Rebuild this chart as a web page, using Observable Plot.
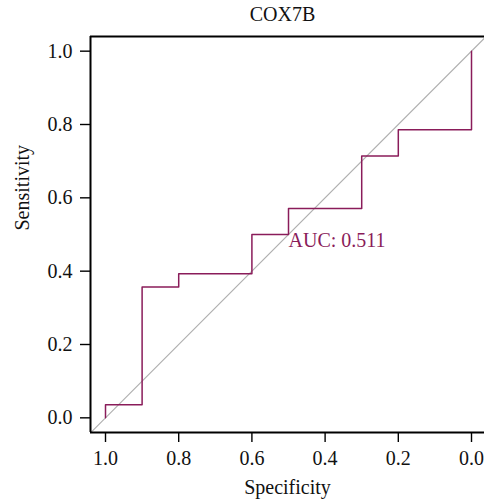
<!DOCTYPE html>
<html><head><meta charset="utf-8">
<script src="https://cdn.jsdelivr.net/npm/d3@7"></script>
<script src="https://cdn.jsdelivr.net/npm/@observablehq/plot@0.6"></script>
<style>body{margin:0;background:#fff}</style>
</head><body><div id="chart"></div>
<script>
const title = "COX7B";
const specificity = [1.0, 1.0, 0.9, 0.8, 0.6, 0.5, 0.3, 0.2, 0.0];
const sensitivity = [0.0, 0.036, 0.357, 0.393, 0.5, 0.571, 0.714, 0.786, 1.0];
const ticks = [0, 0.2, 0.4, 0.6, 0.8, 1.0];
const aucLabel = "AUC: 0.511";
const aucPos = [0.5, 0.5];
const xDomain = [1.041, -0.0355];
const yDomain = [-0.04, 1.04];

const pts = specificity.map((s, i) => ({spec: s, sens: sensitivity[i]}));
const diag = [{spec: 1.04, sens: -0.04}, {spec: -0.04, sens: 1.04}];
const col = "#8a1c5a";
const font = "Liberation Serif";

const chart = Plot.plot({
  width: 484, height: 502,
  marginLeft: 90, marginRight: 0, marginTop: 36, marginBottom: 70,
  style: {fontFamily: font, fontSize: "20px", color: "#111"},
  x: {domain: xDomain, label: null},
  y: {domain: yDomain, label: null},
  marks: [
    Plot.line(diag, {x: "spec", y: "sens", stroke: "#b0b0b0", strokeWidth: 1.1, clip: true}),
    Plot.line(pts, {x: "spec", y: "sens", curve: "step-after", stroke: col, strokeWidth: 1.5}),
    Plot.text([aucLabel], {x: () => aucPos[0], y: () => aucPos[1], text: d => d, textAnchor: "start", lineAnchor: "top", dy: -2, fill: col, fontSize: 20, fontFamily: font}),
    Plot.ruleX([xDomain[0]], {stroke: "#000", strokeWidth: 2}),
    Plot.ruleY(yDomain, {stroke: "#000", strokeWidth: 1.8}),
    Plot.axisY(ticks, {tickSize: 10, tickPadding: 8, tickFormat: d3.format(".1f"), fontSize: 20, stroke: "#000", strokeWidth: 1.4, label: null}),
    Plot.axisX(ticks, {tickSize: 10, tickPadding: 8, tickFormat: d3.format(".1f"), fontSize: 20, stroke: "#000", strokeWidth: 1.4, label: null}),
    Plot.text([title], {frameAnchor: "top", dy: -30, text: d => d, fontSize: 20, fontFamily: font, dx: -5}),
    Plot.text(["Specificity"], {frameAnchor: "bottom", dy: 61, text: d => d, fontSize: 20, fontFamily: font}),
    Plot.text(["Sensitivity"], {frameAnchor: "left", dx: -68, dy: -4, rotate: -90, text: d => d, fontSize: 20, fontFamily: font})
  ]
});
document.getElementById("chart").append(chart);
</script></body></html>
